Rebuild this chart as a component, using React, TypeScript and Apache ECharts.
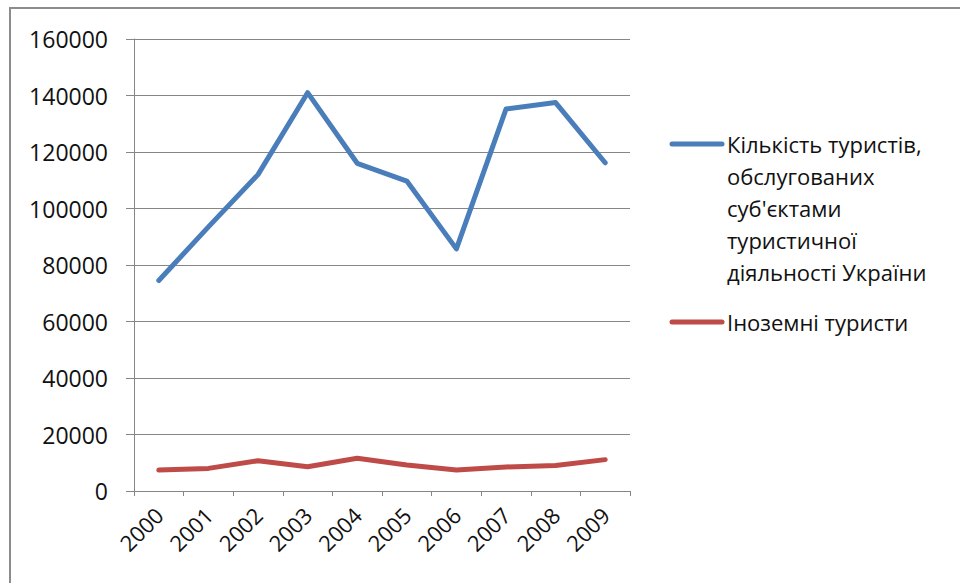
import React, { useEffect, useRef } from "react";
import * as echarts from "echarts";

const years = ["2000", "2001", "2002", "2003", "2004", "2005", "2006", "2007", "2008", "2009"];
const servedTourists = [74500, 93500, 112000, 141000, 116000, 109700, 85700, 135200, 137500, 116200];
const foreignTourists = [7400, 8000, 10700, 8600, 11600, 9200, 7400, 8500, 9000, 11100];
const seriesNames = [
  "Кількість туристів,\nобслугованих\nсуб'єктами\nтуристичної\nдіяльності України",
  "Іноземні туристи",
];
const colors = ["#4A7EBB", "#BE4B48"];

const FONT = "'Open Sans', 'Liberation Sans', sans-serif";

export default function App() {
  const ref = useRef<HTMLDivElement>(null);
  useEffect(() => {
    if (!ref.current) return;
    const chart = echarts.init(ref.current, null, { renderer: "svg" });
    chart.setOption({
      animation: false,
      backgroundColor: "#ffffff",
      grid: { left: 134, right: 330, top: 39, bottom: 92, containLabel: false },
      xAxis: {
        type: "category",
        data: years,
        boundaryGap: true,
        axisLine: { lineStyle: { color: "#868686", width: 1 } },
        axisTick: { show: true, length: 5, lineStyle: { color: "#868686" } },
        axisLabel: {
          rotate: 45,
          margin: 20,
          color: "#111",
          fontFamily: FONT,
          fontSize: 22,
          interval: 0,
        },
      },
      yAxis: {
        type: "value",
        min: 0,
        max: 160000,
        interval: 20000,
        axisLine: { show: true, lineStyle: { color: "#868686", width: 1 } },
        axisTick: { show: true, length: 8, lineStyle: { color: "#868686" } },
        splitLine: { show: true, lineStyle: { color: "#868686", width: 1 } },
        axisLabel: {
          margin: 26,
          color: "#111",
          fontFamily: FONT,
          fontSize: 23,
          formatter: (v: number) => String(v),
        },
      },
      legend: { show: false },
      series: [
        {
          name: seriesNames[0],
          type: "line",
          data: servedTourists,
          symbol: "none",
          lineStyle: { color: colors[0], width: 5, cap: "round", join: "round" },
          itemStyle: { color: colors[0] },
        },
        {
          name: seriesNames[1],
          type: "line",
          data: foreignTourists,
          symbol: "none",
          lineStyle: { color: colors[1], width: 5, cap: "round", join: "round" },
          itemStyle: { color: colors[1] },
        },
      ],
      graphic: [
        {
          type: "rect",
          shape: { x: 10, y: 8, width: 1000, height: 1000 },
          style: { fill: "none", stroke: "#8c8c8c", lineWidth: 2 },
          silent: true,
        },
        {
          type: "line",
          shape: { x1: 672, y1: 144, x2: 722, y2: 144 },
          style: { stroke: colors[0], lineWidth: 5, lineCap: "round" },
        },
        {
          type: "text",
          x: 727,
          y: 128,
          style: {
            text: seriesNames[0],
            fontFamily: FONT,
            fontSize: 22,
            lineHeight: 32,
            fill: "#111",
            align: "left",
            verticalAlign: "top",
          },
        },
        {
          type: "line",
          shape: { x1: 672, y1: 322, x2: 722, y2: 322 },
          style: { stroke: colors[1], lineWidth: 5, lineCap: "round" },
        },
        {
          type: "text",
          x: 727,
          y: 306,
          style: {
            text: seriesNames[1],
            fontFamily: FONT,
            fontSize: 22,
            lineHeight: 32,
            fill: "#111",
            align: "left",
            verticalAlign: "top",
          },
        },
      ],
    });
    return () => chart.dispose();
  }, []);
  return (
    <div
      ref={ref}
      style={{ position: "fixed", left: 0, top: 0, width: 960, height: 583, background: "#fff" }}
    />
  );
}
